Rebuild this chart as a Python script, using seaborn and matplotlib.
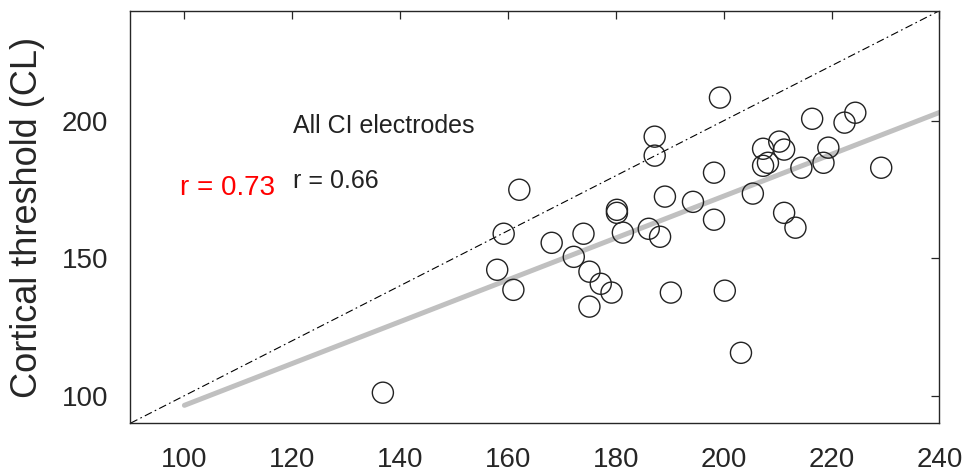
import numpy as np
import pandas as pd
import matplotlib
matplotlib.use("Agg")
import matplotlib.pyplot as plt
import seaborn as sns

# behavioural threshold (x) vs cortical threshold (y), one circle per electrode
behav_cl = [136.8, 158.0, 159.2, 161.0, 162.1, 168.1, 172.2, 174.0, 175.1, 177.2,
            179.2, 175.1, 180.2, 180.2, 181.3, 186.1, 187.2, 187.2, 188.2, 189.1,
            190.2, 194.3, 198.2, 198.2, 199.3, 200.2, 203.2, 205.4, 207.3, 210.3,
            211.2, 207.3, 208.2, 211.2, 213.3, 214.4, 216.4, 218.5, 219.4, 222.4,
            224.4, 229.2]
cortical_cl = [101.1, 145.8, 158.9, 138.5, 174.9, 155.6, 150.5, 158.9, 145.1, 140.7,
               137.5, 132.4, 167.6, 166.5, 159.3, 160.7, 194.2, 187.3, 157.8, 172.4,
               137.5, 170.5, 181.1, 164.0, 208.4, 138.2, 115.6, 173.5, 189.8, 192.4,
               189.5, 183.6, 184.7, 166.5, 161.1, 182.9, 200.7, 184.7, 190.2, 199.3,
               202.9, 182.9]

# linear fit (grey) and unity line (dash-dot)
fit_x = [100, 240]
fit_y = [96.5, 203.0]
unity = [90, 240]

x_ticks = [100, 120, 140, 160, 180, 200, 220, 240]
y_ticks = [100, 150, 200]

df = pd.DataFrame({"behav": behav_cl, "cortical": cortical_cl})

sns.set_style("white")
plt.rcParams["font.family"] = ["Liberation Sans", "DejaVu Sans"]

fig = plt.figure(figsize=(9.7, 4.76), dpi=100)
ax = fig.add_axes([0.1345, 0.1109, 0.834, 0.8666])

ax.plot(unity, unity, color="black", lw=0.8, linestyle=(0, (7, 3, 1.5, 3)), zorder=1)
sns.lineplot(x=fit_x, y=fit_y, color="#c0c0c0", lw=3.6, ax=ax, zorder=2)
sns.scatterplot(data=df, x="behav", y="cortical", ax=ax, s=230, marker="o",
                facecolor="none", edgecolor="#222222", linewidth=1.0, zorder=3)

ax.text(120.1, 195.4, "All CI electrodes", fontsize=18, color="#222222")
ax.text(120.1, 175.4, "r = 0.66", fontsize=18, color="#222222")
ax.text(99.2, 173.0, "r = 0.73", fontsize=20, color="red")

ax.set_xlim(90, 240)
ax.set_ylim(90, 240)
ax.set_xticks(x_ticks)
ax.set_yticks(y_ticks)
ax.set_xlabel("")
ax.set_ylabel("Cortical threshold (CL)", fontsize=26, color="#262626", labelpad=12)

ax.tick_params(direction="in", top=True, right=True, length=6, width=0.9,
               color="#262626", labelsize=20, labelcolor="#262626")
ax.tick_params(axis="x", pad=17)
ax.tick_params(axis="y", pad=16)
for sp in ax.spines.values():
    sp.set_color("#262626")
    sp.set_linewidth(1.0)

fig.savefig("out.png", dpi=100)
